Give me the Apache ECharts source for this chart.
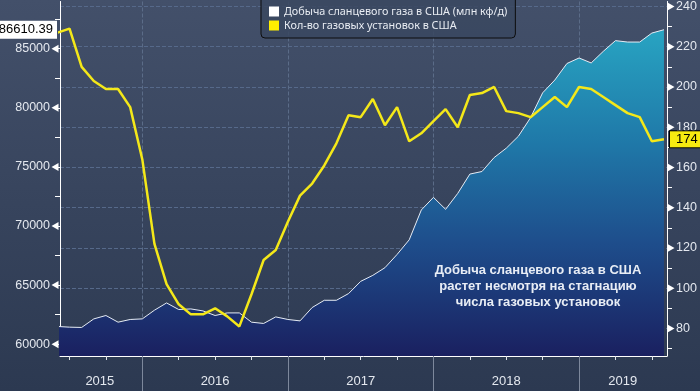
<!DOCTYPE html>
<html><head><meta charset="utf-8">
<script src="https://cdn.jsdelivr.net/npm/echarts@6/dist/echarts.min.js"></script>
<style>html,body{margin:0;padding:0;}#c{width:700px;height:391px;background:linear-gradient(#43506a,#2c3951);}</style>
</head><body><div id="c"></div>
<script>
const months = ['2015-06','2015-07','2015-08','2015-09','2015-10','2015-11','2015-12',
'2016-01','2016-02','2016-03','2016-04','2016-05','2016-06','2016-07','2016-08','2016-09','2016-10','2016-11','2016-12',
'2017-01','2017-02','2017-03','2017-04','2017-05','2017-06','2017-07','2017-08','2017-09','2017-10','2017-11','2017-12',
'2018-01','2018-02','2018-03','2018-04','2018-05','2018-06','2018-07','2018-08','2018-09','2018-10','2018-11','2018-12',
'2019-01','2019-02','2019-03','2019-04','2019-05','2019-06','2019-07','2019-08'];
const shaleGas = [61500,61440,61415,62140,62427,61862,62090,
62140,62874,63489,62933,62983,62815,62427,62646,62646,61862,61753,62309,
62090,61972,63101,63716,63716,64281,65317,65823,66472,67593,68831,71359,
72422,71410,72758,74393,74612,75792,76584,77596,79163,81270,82350,83750,
84219,83798,84783,85685,85567,85567,86326,86610.39];
const gasRigs = [227,229,210,203,199,199,190,
164,122,102,92,87,87,90,86,81,97,114,119,
133,146,152,161,172,186,185,194,181,190,173,177,
183,189,180,196,197,200,188,187,185,190,195,190,
200,199,195,191,187,185,173,174];
const years = ['2015','2016','2017','2018','2019'];
const leftLabels = [60000,65000,70000,75000,80000,85000];
const leftTicks = [60000,62500,65000,67500,70000,72500,75000,77500,80000,82500,85000,87500];
const rightLabels = [80,100,120,140,160,180,200,220,240];
const rightMinor = [70,90,110,130,150,170,190,210,230];
const seriesNames = ['Добыча сланцевого газа в США (млн кф/д)','Кол-во газовых установок в США'];
const noteLines = ['Добыча сланцевого газа в США','растет несмотря на стагнацию','числа газовых установок'];

function monthIndex(m){ const p = m.split('-').map(Number); return (p[0]-2015)*12 + p[1]-1; }
const quarterTicks = [6,9,15,18,21,27,30,33,39,42,45,51,54];
const yearBounds = [12,24,36,48];
const yearLabelPos = [8.5,18,30,42,51.6];
const XMIN = 5.215, XMAX = 55.25;
const FONT = 'Liberation Sans';
const labelColor = '#e4e8ef';

const chart = echarts.init(document.getElementById('c'), null, {renderer:'canvas'});
chart.setOption({
  animation:false,
  backgroundColor:'transparent',
  grid:{left:60, right:33, top:0, bottom:35, containLabel:false},
  title:{
    text:noteLines.join('\n'), left:538, top:262, textAlign:'center', padding:0,
    textStyle:{color:'#e8edf5', fontSize:13, fontWeight:'bold', fontFamily:FONT, lineHeight:16, align:'center'}
  },
  legend:{
    orient:'vertical', left:261, top:-6, itemWidth:10, itemHeight:10, itemGap:3,
    padding:[12,8,7,8], backgroundColor:'rgba(58,72,96,0.85)', borderColor:'#0d0d0d', borderWidth:1, borderRadius:4,
    icon:'rect',
    textStyle:{color:'#e8ecf2', fontSize:10.8, fontFamily:'Noto Sans'},
    data:[{name:seriesNames[0], itemStyle:{color:'#ffffff'}},{name:seriesNames[1], itemStyle:{color:'#ffee00'}}]
  },
  xAxis:[
    {type:'value', min:XMIN, max:XMAX, position:'bottom',
     axisLine:{show:true, lineStyle:{color:'#ffffff', width:1}},
     axisTick:{show:true, customValues:quarterTicks, length:4, lineStyle:{color:'#e0e4ea'}},
     axisLabel:{show:false}, splitLine:{show:false}},
    {type:'value', min:XMIN, max:XMAX, position:'bottom',
     axisLine:{show:false},
     axisTick:{show:true, customValues:yearBounds, length:35, lineStyle:{color:'#7d889c'}},
     axisLabel:{customValues:yearLabelPos, formatter:v=>years[Math.floor(v/12)], margin:19, color:labelColor, fontSize:13, fontFamily:FONT},
     splitLine:{show:true, lineStyle:{type:'dashed', color:'#5b6c88'}}}
  ],
  yAxis:[
    {type:'value', min:59000, max:89000, position:'left',
     axisLine:{show:true, lineStyle:{color:'#ffffff'}},
     axisTick:{show:true, customValues:leftTicks, length:5, lineStyle:{color:'#ffffff'}},
     axisLabel:{customValues:leftLabels, margin:10, color:labelColor, fontSize:12.5, fontFamily:FONT, formatter:v=>String(v)},
     splitLine:{show:false}},
    {type:'value', min:66.3, max:242.5, position:'right',
     axisLine:{show:true, lineStyle:{color:'#ffffff'}},
     axisTick:{show:true, customValues:rightLabels, length:4, lineStyle:{color:'#ffffff'}},
     axisLabel:{customValues:rightLabels, margin:9, color:labelColor, fontSize:12.5, fontFamily:FONT, formatter:v=>String(v)},
     splitLine:{show:true, lineStyle:{type:'dashed', color:'#56698a'}}},
    {type:'value', min:66.3, max:242.5, position:'right',
     axisLine:{show:false},
     axisTick:{show:true, customValues:rightMinor, length:5, lineStyle:{color:'#ffffff'}},
     axisLabel:{show:false}, splitLine:{show:false}}
  ],
  series:[
    {name:seriesNames[0], type:'line', xAxisIndex:0, yAxisIndex:0, symbol:'none', clip:true,
     data:months.map((m,i)=>[monthIndex(m), shaleGas[i]]),
     lineStyle:{color:'#e6ecf5', width:1}, itemStyle:{color:'#ffffff'},
     areaStyle:{opacity:1, color:new echarts.graphic.LinearGradient(0,0,0,1,[
       {offset:0,color:'#28a4c2'},{offset:0.35,color:'#1f78a8'},{offset:0.65,color:'#1e4e8c'},{offset:1,color:'#1a2060'}])},
     markPoint:{silent:true, animation:false, symbol:'triangle', symbolRotate:90, symbolSize:[8,7], symbolOffset:[-5,0],
       itemStyle:{color:'#ffffff'}, label:{show:false},
       data:leftLabels.map(v=>({coord:[XMIN, v]}))},
     markLine:{silent:true, symbol:'none', animation:false,
       lineStyle:{color:'rgba(0,0,0,0)', width:1},
       label:{position:'start', distance:3, formatter:p=>Number(p.value).toFixed(2), backgroundColor:'#ffffff', color:'#000000',
         padding:[3,4,2,3], fontSize:13, fontFamily:FONT},
       data:[{yAxis:shaleGas[shaleGas.length-1]}]}
    },
    {name:seriesNames[1], type:'line', xAxisIndex:0, yAxisIndex:1, symbol:'none', clip:true,
     data:months.map((m,i)=>[monthIndex(m), gasRigs[i]]),
     lineStyle:{color:'#f4e819', width:2.5}, itemStyle:{color:'#ffee00'},
     markPoint:{silent:true, animation:false, symbol:'triangle', symbolRotate:-90, symbolSize:[8,7], symbolOffset:[4,0],
       itemStyle:{color:'#ffffff'}, label:{show:false},
       data:rightLabels.map(v=>({coord:[XMAX, v]}))},
     markLine:{silent:true, symbol:'none', animation:false,
       lineStyle:{color:'rgba(0,0,0,0)', width:1},
       label:{position:'end', distance:3, formatter:p=>String(p.value), backgroundColor:'#f7ea10', color:'#000000',
         borderColor:'#000000', borderWidth:1, padding:[2,4,1,6], fontSize:13, fontFamily:FONT},
       data:[{yAxis:gasRigs[gasRigs.length-1]}]}
    }
  ]
});
</script></body></html>
